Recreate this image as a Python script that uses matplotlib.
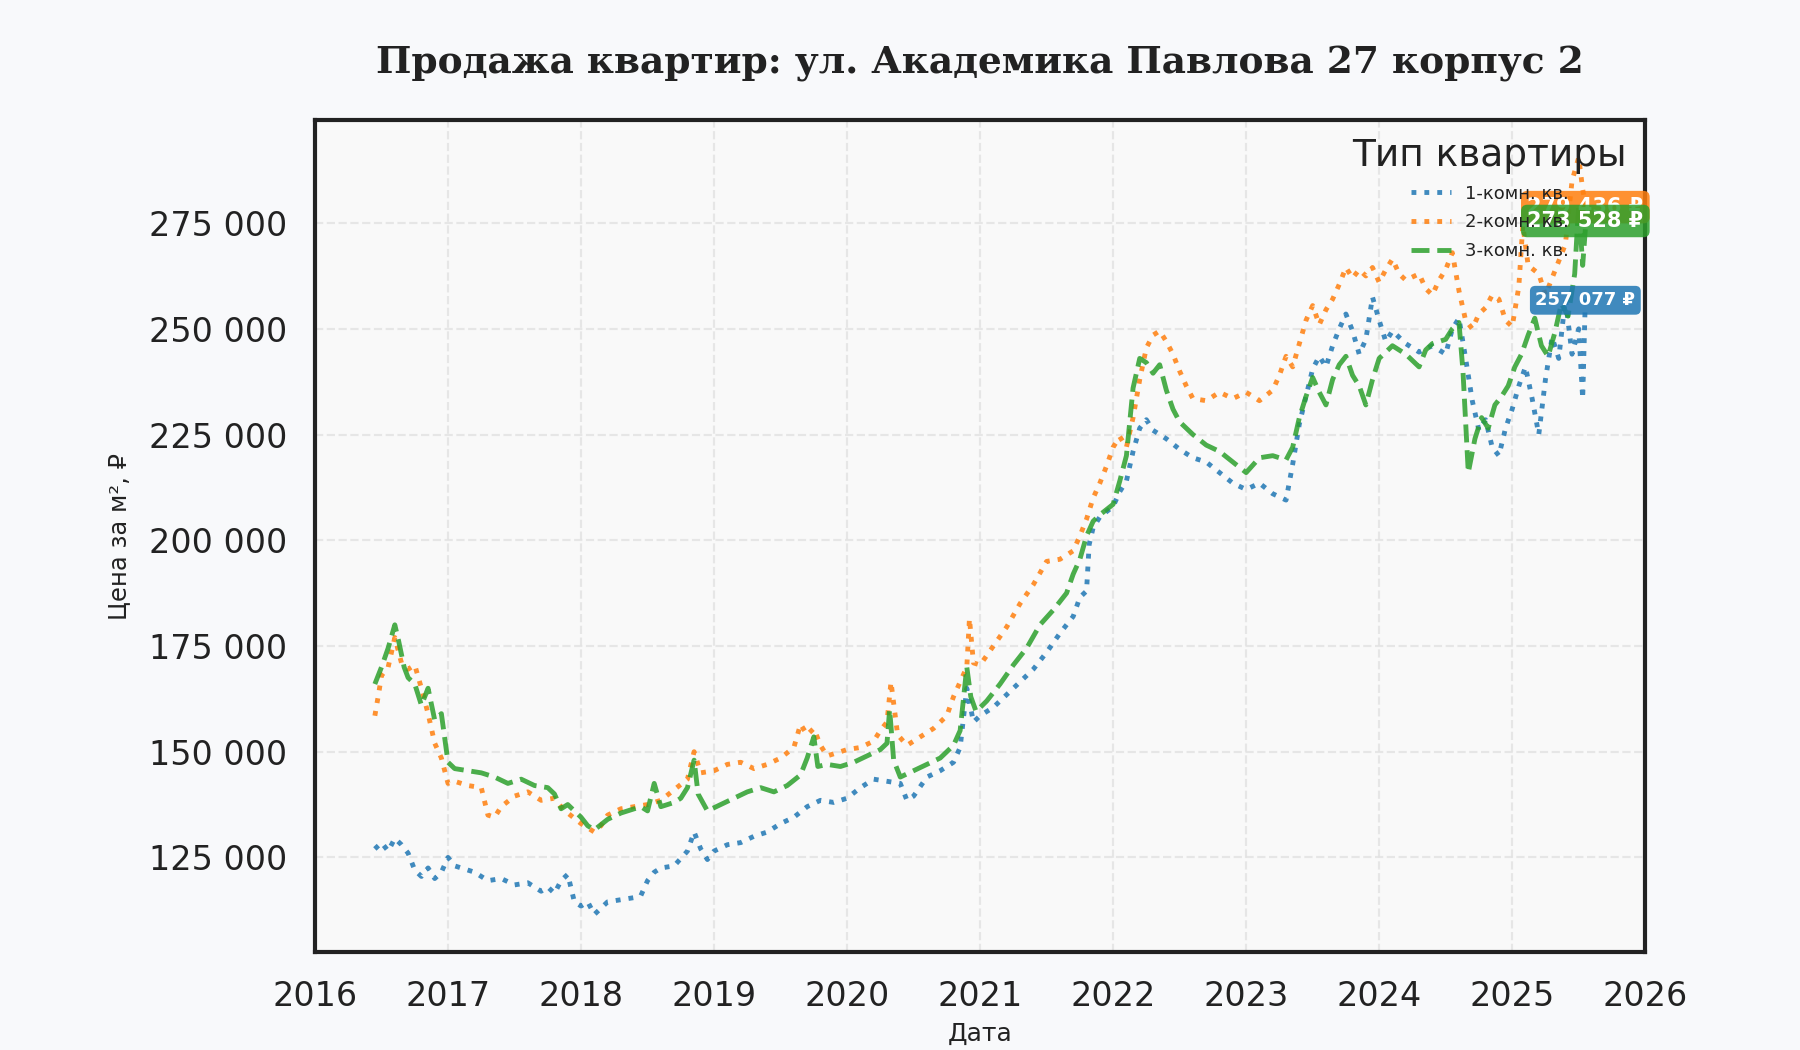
import matplotlib
matplotlib.use("Agg")
import matplotlib.pyplot as plt
from matplotlib.ticker import FuncFormatter, MultipleLocator

# --- data (decimal years, price per m2) ---
one_x = [2016.45, 2016.50, 2016.55, 2016.60, 2016.65, 2016.70, 2016.75, 2016.80, 2016.85, 2016.90,
         2016.95, 2017.00, 2017.05, 2017.10, 2017.20, 2017.30, 2017.40, 2017.50, 2017.60, 2017.70,
         2017.75, 2017.80, 2017.85, 2017.90, 2017.95, 2018.00, 2018.05, 2018.10, 2018.15, 2018.20,
         2018.30, 2018.40, 2018.45, 2018.50, 2018.55, 2018.60, 2018.70, 2018.80, 2018.85, 2018.90,
         2018.95, 2019.00, 2019.10, 2019.20, 2019.30, 2019.40, 2019.50, 2019.60, 2019.70, 2019.80,
         2019.90, 2020.00, 2020.10, 2020.20, 2020.30, 2020.40, 2020.45, 2020.50, 2020.60, 2020.70,
         2020.80, 2020.85, 2020.90, 2020.95, 2021.00, 2021.10, 2021.20, 2021.30, 2021.40, 2021.50,
         2021.60, 2021.70, 2021.75, 2021.80, 2021.82, 2021.85, 2021.90, 2022.00, 2022.05, 2022.10,
         2022.15, 2022.20, 2022.25, 2022.30, 2022.40, 2022.50, 2022.60, 2022.70, 2022.80, 2022.90,
         2023.00, 2023.10, 2023.20, 2023.30, 2023.35, 2023.40, 2023.45, 2023.50, 2023.55, 2023.60,
         2023.65, 2023.70, 2023.75, 2023.80, 2023.85, 2023.90, 2023.95, 2024.00, 2024.05, 2024.10,
         2024.20, 2024.30, 2024.40, 2024.50, 2024.55, 2024.60, 2024.65, 2024.70, 2024.75, 2024.80,
         2024.85, 2024.90, 2024.95, 2025.00, 2025.05, 2025.10, 2025.15, 2025.20, 2025.25, 2025.30,
         2025.35, 2025.40, 2025.45, 2025.50, 2025.53, 2025.55]
one_y = [127000, 128500, 126500, 129500, 128000, 126000, 122000, 120500, 122500, 120000,
         121500, 125000, 123000, 122500, 121500, 119500, 120000, 118500, 119000, 117000,
         118000, 116500, 119500, 121000, 114500, 113500, 114500, 111500, 113000, 114500,
         115000, 115500, 116000, 119500, 121500, 122500, 123000, 126500, 131000, 127000,
         124500, 126500, 128000, 128500, 130000, 131000, 133000, 134500, 137000, 138500,
         138000, 139000, 141500, 143500, 143000, 142500, 138500, 139500, 144000, 145500,
         147500, 151000, 165000, 157000, 158500, 160500, 163500, 166500, 169500, 173500,
         178000, 182000, 186500, 188000, 199000, 203000, 205500, 208000, 211500, 214000,
         221000, 226500, 228500, 226000, 224000, 221500, 219500, 218500, 216000, 213500,
         212000, 213500, 211000, 209500, 218000, 227500, 234000, 240500, 243500, 241000,
         246000, 250000, 253500, 249500, 244000, 247500, 257500, 252000, 247000, 249500,
         246500, 244500, 246000, 244000, 250000, 252500, 243000, 233000, 226000, 228500,
         222000, 220000, 226500, 231000, 236500, 241000, 233500, 225000, 238000, 248000,
         243000, 257000, 244000, 250000, 233500, 257077]

two_x = [2016.45, 2016.48, 2016.50, 2016.55, 2016.60, 2016.65, 2016.70, 2016.75, 2016.80, 2016.85,
         2016.90, 2016.95, 2017.00, 2017.05, 2017.15, 2017.25, 2017.30, 2017.35, 2017.40, 2017.50,
         2017.60, 2017.70, 2017.80, 2017.85, 2017.90, 2018.00, 2018.05, 2018.10, 2018.15, 2018.20,
         2018.30, 2018.40, 2018.50, 2018.60, 2018.70, 2018.80, 2018.85, 2018.90, 2019.00, 2019.10,
         2019.20, 2019.30, 2019.40, 2019.50, 2019.60, 2019.65, 2019.70, 2019.75, 2019.80, 2019.85,
         2019.90, 2020.00, 2020.10, 2020.20, 2020.25, 2020.30, 2020.33, 2020.38, 2020.45, 2020.55,
         2020.65, 2020.75, 2020.80, 2020.85, 2020.90, 2020.92, 2020.95, 2021.00, 2021.10, 2021.20,
         2021.30, 2021.40, 2021.50, 2021.60, 2021.70, 2021.75, 2021.80, 2021.85, 2021.90, 2021.95,
         2022.00, 2022.05, 2022.10, 2022.15, 2022.20, 2022.25, 2022.30, 2022.35, 2022.40, 2022.45,
         2022.50, 2022.55, 2022.60, 2022.70, 2022.80, 2022.90, 2023.00, 2023.10, 2023.20, 2023.25,
         2023.30, 2023.35, 2023.40, 2023.45, 2023.50, 2023.55, 2023.60, 2023.65, 2023.70, 2023.75,
         2023.80, 2023.85, 2023.90, 2023.95, 2024.00, 2024.05, 2024.10, 2024.15, 2024.20, 2024.30,
         2024.35, 2024.40, 2024.45, 2024.50, 2024.55, 2024.60, 2024.65, 2024.70, 2024.75, 2024.80,
         2024.85, 2024.90, 2024.95, 2025.00, 2025.05, 2025.08, 2025.12, 2025.20, 2025.25, 2025.30,
         2025.35, 2025.40, 2025.45, 2025.50, 2025.53, 2025.55]
two_y = [158500, 164000, 168000, 170000, 177000, 171000, 169500, 170500, 165000, 159000,
         152000, 148500, 142500, 143000, 142000, 141500, 135000, 134500, 137000, 139500,
         140500, 138500, 139000, 137000, 135500, 133000, 132000, 131000, 132500, 135000,
         136500, 137000, 137500, 138500, 141000, 143500, 150000, 145000, 145500, 147000,
         147500, 146000, 147000, 148500, 151000, 156500, 154000, 155500, 151500, 149000,
         149500, 150500, 151000, 152500, 155000, 157000, 166500, 154000, 151500, 153500,
         155500, 158500, 163000, 166500, 170000, 181500, 171000, 170500, 175000, 179500,
         185000, 189500, 195000, 195500, 197500, 201000, 205000, 210000, 213500, 217500,
         222000, 224500, 222000, 229000, 238000, 245500, 248500, 249500, 247000, 244000,
         240000, 236500, 233500, 233000, 235000, 233500, 235000, 233000, 235500, 239000,
         243500, 241000, 246500, 252000, 255500, 251000, 254500, 257000, 260500, 264500,
         262000, 264000, 262500, 264500, 261000, 264000, 266500, 263000, 261500, 263000,
         259500, 258000, 261500, 264000, 268000, 259000, 252000, 250000, 253500, 255000,
         258000, 257000, 252000, 250500, 260000, 274500, 265000, 263000, 258000, 262000,
         266000, 270000, 285000, 290500, 283000, 279436]

three_x = [2016.45, 2016.50, 2016.55, 2016.60, 2016.63, 2016.67, 2016.70, 2016.75, 2016.80, 2016.85,
           2016.90, 2016.95, 2017.00, 2017.05, 2017.15, 2017.25, 2017.35, 2017.45, 2017.55, 2017.65,
           2017.75, 2017.80, 2017.85, 2017.90, 2018.00, 2018.05, 2018.10, 2018.20, 2018.30, 2018.40,
           2018.45, 2018.50, 2018.55, 2018.60, 2018.70, 2018.75, 2018.80, 2018.85, 2018.88, 2018.95,
           2019.05, 2019.15, 2019.25, 2019.35, 2019.45, 2019.55, 2019.65, 2019.70, 2019.75, 2019.78,
           2019.85, 2019.95, 2020.05, 2020.15, 2020.25, 2020.30, 2020.32, 2020.35, 2020.40, 2020.50,
           2020.60, 2020.70, 2020.80, 2020.85, 2020.90, 2020.93, 2020.97, 2021.05, 2021.15, 2021.25,
           2021.35, 2021.45, 2021.55, 2021.65, 2021.70, 2021.75, 2021.80, 2021.85, 2021.90, 2022.00,
           2022.05, 2022.10, 2022.15, 2022.20, 2022.25, 2022.30, 2022.35, 2022.40, 2022.45, 2022.50,
           2022.60, 2022.70, 2022.80, 2022.90, 2023.00, 2023.10, 2023.20, 2023.30, 2023.35, 2023.40,
           2023.45, 2023.50, 2023.55, 2023.60, 2023.65, 2023.70, 2023.75, 2023.80, 2023.85, 2023.90,
           2023.95, 2024.00, 2024.10, 2024.20, 2024.30, 2024.35, 2024.40, 2024.50, 2024.55, 2024.60,
           2024.63, 2024.67, 2024.72, 2024.77, 2024.82, 2024.87, 2024.92, 2024.97, 2025.02, 2025.07,
           2025.12, 2025.17, 2025.22, 2025.27, 2025.32, 2025.37, 2025.42, 2025.47, 2025.50, 2025.53,
           2025.55]
three_y = [166000, 170000, 174500, 180000, 176000, 170000, 167500, 166000, 161000, 165000,
           157500, 159000, 147500, 146000, 145500, 145000, 144000, 142500, 143500, 142000,
           141500, 140000, 136500, 137500, 134500, 132500, 131500, 134000, 135500, 136500,
           137000, 136000, 142500, 137000, 138000, 139000, 141500, 148000, 140000, 136000,
           137500, 139000, 140500, 141500, 140500, 142000, 144500, 148500, 153500, 146500,
           147000, 146500, 147500, 149000, 150500, 152000, 160000, 148000, 144000, 145500,
           147000, 148500, 151500, 155000, 170000, 163000, 159500, 162000, 166000, 170500,
           174500, 180000, 183500, 187500, 192000, 195500, 201000, 204500, 206000, 208500,
           214000, 220000, 236000, 243000, 242000, 239500, 241500, 235500, 231000, 228000,
           225000, 222500, 221000, 218500, 216000, 219500, 220000, 219000, 222000, 229000,
           234000, 238500, 235000, 232000, 238000, 241500, 243500, 239000, 236500, 232000,
           238000, 243000, 246000, 244000, 241000, 245000, 246500, 247500, 250000, 251500,
           240000, 216000, 224000, 229000, 226500, 232000, 234000, 236500, 241000, 244000,
           248500, 252500, 246000, 243500, 249000, 256000, 253000, 263000, 279500, 265000,
           273528]

labels = ["1-комн. кв.", "2-комн. кв.", "3-комн. кв."]
colors = ["#1f77b4", "#ff7f0e", "#2ca02c"]
styles = [":", ":", "--"]
last_prices = [257077, 279436, 273528]

plt.rcParams['font.family'] = ['DejaVu Sans']

fig = plt.figure(figsize=(18, 10.5), dpi=100, facecolor="#f8f9fb")
ax_left, ax_w = 0.175, 0.739
ax = fig.add_axes([ax_left, 0.093, ax_w, 0.793])
ax.set_facecolor("#f9f9f9")

series = [(one_x, one_y), (two_x, two_y), (three_x, three_y)]
for (xs, ys), lab, col, ls in zip(series, labels, colors, styles):
    ax.plot(xs, ys, linestyle=ls, color=col, linewidth=3.5, alpha=0.85, label=lab)

# end-value badges
badge_size = [13, 15, 15]
badge_dy = [-1, -2, 6]
for (xs, ys), col, val, fs, dy in zip(series, colors, last_prices, badge_size, badge_dy):
    ax.annotate(f"{val:,}".replace(",", " ") + " ₽", xy=(xs[-1], val),
                xytext=(0, dy), textcoords="offset points",
                ha="center", va="center", fontsize=fs, fontweight="bold", color="white",
                bbox=dict(boxstyle="round,pad=0.3", fc=col, ec="none", alpha=0.85))

ax.set_xlim(2016, 2026)
ax.xaxis.set_major_locator(MultipleLocator(1))
ax.xaxis.set_major_formatter(FuncFormatter(lambda v, p: f"{int(v)}"))
ax.set_yticks(range(125000, 300000, 25000))
ax.yaxis.set_major_formatter(FuncFormatter(lambda v, p: f"{v:,.0f}".replace(",", " ")))
ax.tick_params(axis="both", labelsize=24, colors="#222222", length=0, pad=20)

ax.grid(True, linestyle="--", color="#e2e2e2", linewidth=1.6, alpha=0.8)
for sp in ax.spines.values():
    sp.set_linewidth(3)
    sp.set_color("#222222")

ax.set_xlabel("Дата", fontsize=18, color="#222222", labelpad=6)
ax.set_ylabel("Цена за м², ₽", fontsize=17.5, color="#222222", labelpad=13)
fig.suptitle("Продажа квартир: ул. Академика Павлова 27 корпус 2",
             x=ax_left + ax_w / 2, y=0.94, va="center",
             fontsize=27, fontweight="bold", family="DejaVu Serif", color="#222222")

leg = ax.legend(title="Тип квартиры", loc="upper right", frameon=False,
                fontsize=13, title_fontsize=27, borderaxespad=0.6, handlelength=2.2,
                labelspacing=0.6)
for t in leg.get_texts():
    t.set_color("#222222")
leg.get_title().set_color("#222222")

fig.savefig("out.png", dpi=100, facecolor=fig.get_facecolor())
